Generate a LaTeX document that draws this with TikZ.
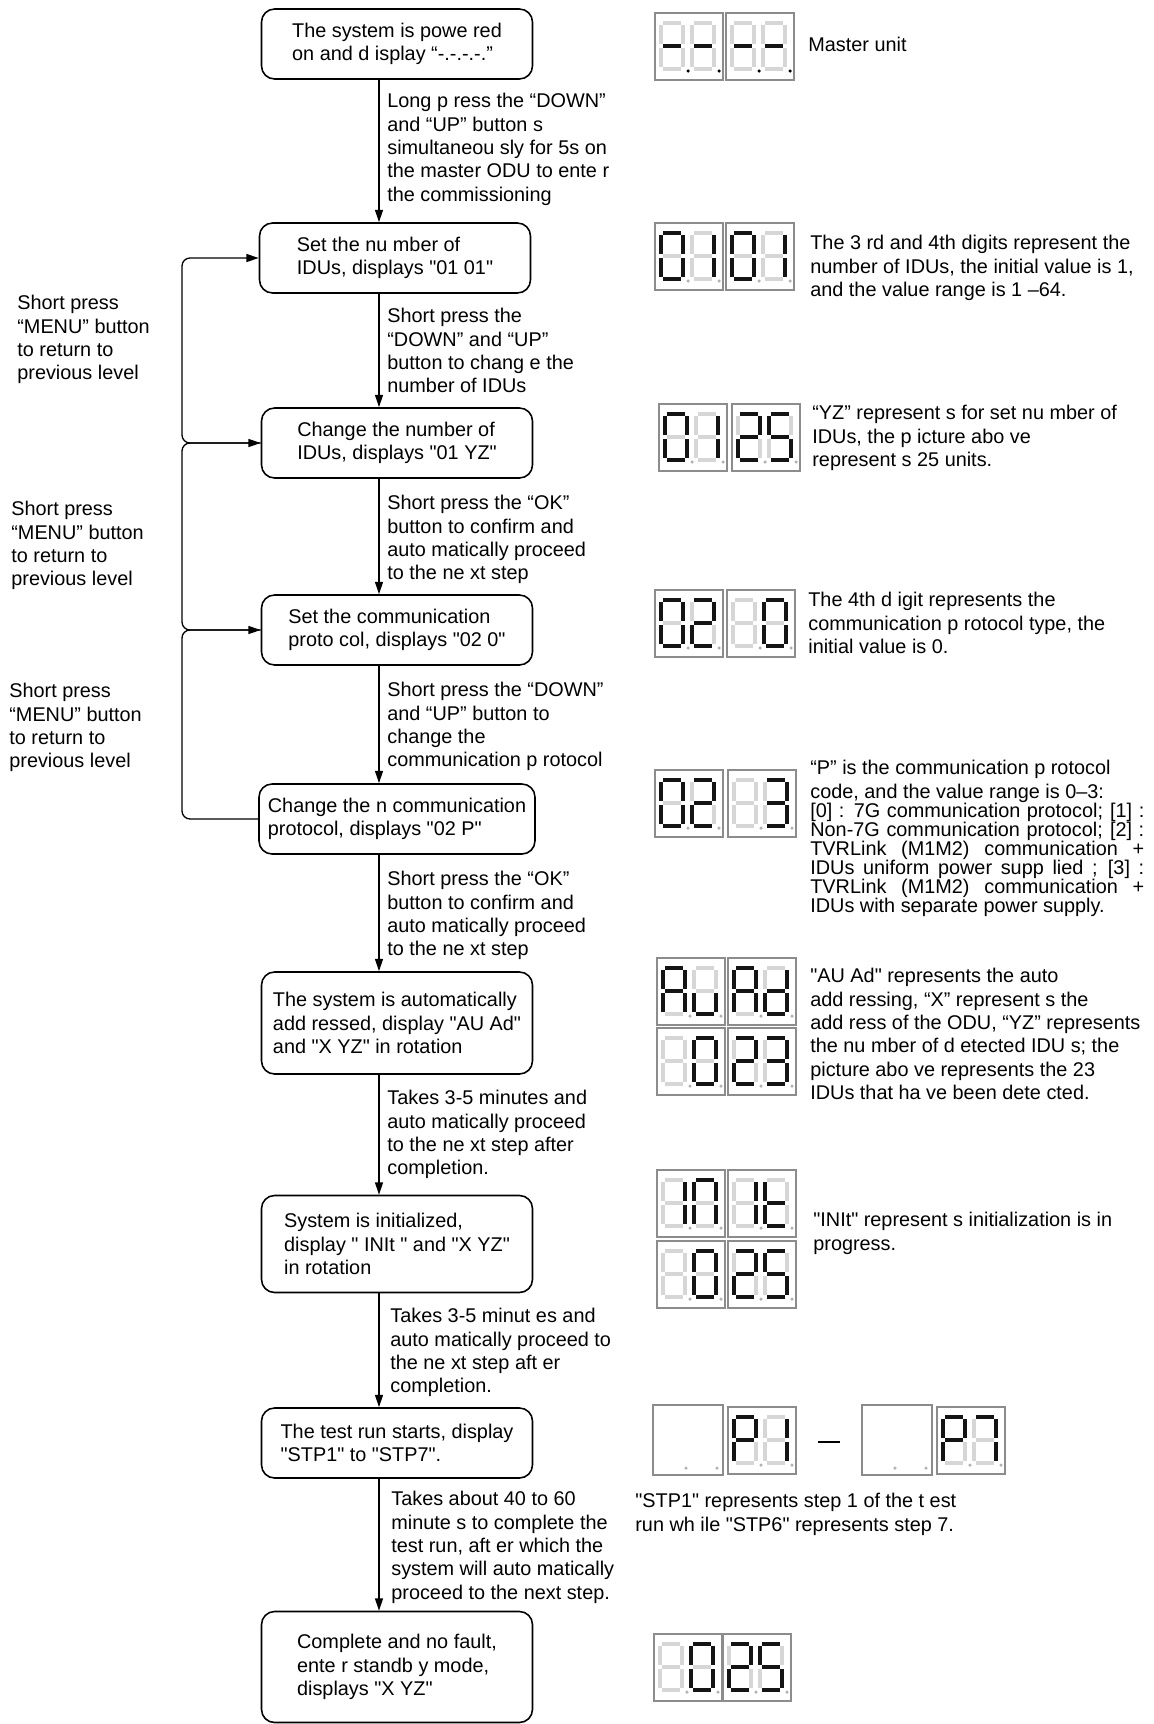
\documentclass[tikz,border=0pt]{standalone}
\usepackage{fontspec}
\setmainfont{Liberation Sans}[Ligatures=TeXOff]
\usetikzlibrary{arrows.meta,positioning}

% one unit = one pixel of the sheet, y running down
\tikzset{
  sega/.style={insert path={(0,0) -- (22,0)}},
  segb/.style={insert path={(22,0) -- (22,23)}},
  segc/.style={insert path={(22,23) -- (22,46)}},
  segd/.style={insert path={(0,46) -- (22,46)}},
  sege/.style={insert path={(0,23) -- (0,46)}},
  segf/.style={insert path={(0,0) -- (0,23)}},
  segg/.style={insert path={(0,23) -- (22,23)}},
  segoff/.style={draw=black!16, line width=2.2pt, shorten <=0.04cm, shorten >=0.04cm},
  segon/.style={draw=black!92, line width=2.3pt, shorten <=0.04cm, shorten >=0.04cm},
  panel/.style={draw=black!45, line width=0.7pt},
}

% one seven-segment digit: [dot colour]{x}{y}{lit segments}
\newcommand\segdigit[4][black!30]{%
  \begin{scope}[shift={(#2,#3)}]
    \foreach \s in {a,b,c,d,e,f,g} \draw[segoff,seg\s];
    \foreach \s in {#4} \draw[segon,seg\s];
    \fill[#1] (27,48) circle[radius=0.035cm];
  \end{scope}}

% a framed pair of digits: [dot colour]{x}{y}{first}{second}
\newcommand\ledpair[5][black!30]{%
  \draw[panel] (#2,#3) rectangle ++(68,67);
  \segdigit[#1]{#2+6}{#3+10}{#4}
  \segdigit[#1]{#2+37}{#3+10}{#5}}

% a framed pair that shows nothing but its points
\newcommand\ledblank[2]{%
  \draw[panel] (#1,#2) rectangle ++(70,70);
  \fill[black!30] (#1+33,#2+63) circle[radius=0.035cm];
  \fill[black!30] (#1+64,#2+63) circle[radius=0.035cm];}

\begin{document}
\begin{tikzpicture}[x=0.02cm, y=-0.02cm,
    font=\fontsize{11.3}{13.3}\selectfont,
    procbox/.style={draw, fill=white, line width=0.9pt, rounded corners=0.26cm,
      minimum width=5.42cm, minimum height=1.4cm, align=left, inner xsep=2pt},
    flow/.style={draw, line width=0.75pt, -{Triangle[length=7pt,width=4.5pt]}},
    back/.style={flow, rounded corners=0.16cm},
    note/.style={anchor=north west, inner sep=0pt, align=left}]
  \useasboundingbox (0,0) rectangle (1153,1724);

  \coordinate (spine) at (379,0);
  \coordinate (loop) at (182,0);

  % steps
  \node[procbox] (b1) at (397,44) {The system is powe red\\on and d isplay “-.-.-.-.”};
  \node[procbox] (b2) at (395,258) {Set the nu mber of\\IDUs, displays "01 01"};
  \node[procbox] (b3) at (397,443) {Change the number of\\IDUs, displays "01 YZ"};
  \node[procbox] (b4) at (397,630) {Set the  communication\\proto col, displays "02 0"};
  \node[procbox, minimum width=5.52cm] (b5) at (397,819) {Change the n communication\\protocol, displays "02 P"};
  \node[procbox, minimum height=2.04cm] (b6) at (397,1023) {The system is automatically\\add ressed, display "AU Ad"\\and "X YZ" in rotation};
  \node[procbox, minimum height=1.94cm] (b7) at (397,1244) {System is initialized,\\display " INIt " and "X YZ"\\in rotation};
  \node[procbox] (b8) at (397,1443) {The test run starts, display\\"STP1" to "STP7".};
  \node[procbox, minimum height=2.22cm] (b9) at (397,1667) {Complete and no  fault,\\ente r standb y mode,\\displays "X YZ"};

  \foreach \a/\b in {b1/b2,b2/b3,b3/b4,b4/b5,b5/b6,b6/b7,b7/b8,b8/b9}
    \draw[flow] (\a.south -| spine) -- (\b.north -| spine);

  % going back one level
  \draw[back] (b3.west) -| (loop |- b2.west) -- (b2.west);
  \draw[back] (b4.west) -| (loop |- b3.west) -- (b3.west);
  \draw[back] (b5.west) -| (loop |- b4.west) -- (b4.west);

  \node[note] (m1) at (17,295) {Short press\\“MENU” button\\to return to\\previous level};
  \node[note] (m2) at (11,501) {Short press\\“MENU” button\\to return to\\previous level};
  \node[note] (m3) at (9,683) {Short press\\“MENU” button\\to return to\\previous level};

  % what to do between steps
  \node[note] (t1) at (387,93) {Long p ress the “DOWN”\\and “UP” button s\\simultaneou sly for 5s on\\the master ODU to ente r\\the commissioning};
  \node[note] (t2) at (387,308) {Short press the\\“DOWN” and “UP”\\button to  chang e the\\number of IDUs};
  \node[note] (t3) at (387,495) {Short press the “OK”\\button to  confirm and\\auto matically proceed\\to the ne xt step};
  \node[note] (t4) at (387,682) {Short press the “DOWN”\\and “UP” button  to\\change the\\communication p rotocol};
  \node[note] (t5) at (387,871) {Short press the “OK”\\button to  confirm and\\auto matically proceed\\to the ne xt step};
  \node[note] (t6) at (387,1090) {Takes 3-5 minutes and\\auto matically proceed\\to the ne xt step after\\completion.};
  \node[note] (t7) at (390,1308) {Takes 3-5 minut es and\\auto matically proceed to\\the ne xt step aft er\\completion.};
  \node[note] (t8) at (391,1491) {Takes about 40  to 60\\minute s to complete  the\\test run, aft er which  the\\system will auto matically\\proceed to the next step.};

  % displays
  \ledpair[black]{655}{13}{g}{g}
  \ledpair[black]{726}{13}{g}{g}
  \node[anchor=west, inner sep=0pt] (d1) at (808,44) {Master unit};

  \ledpair{655}{223}{a,b,c,d,e,f}{b,c}
  \ledpair{726}{223}{a,b,c,d,e,f}{b,c}
  \node[note] (d2) at (810,235) {The 3 rd and 4th  digits represent  the\\number of IDUs, the initial value is 1,\\and the  value range is 1 –64.};

  \ledpair{659}{404}{a,b,c,d,e,f}{b,c}
  \ledpair{732}{404}{a,b,g,e,d}{a,f,g,c,d}
  \node[note] (d3) at (812,405) {“YZ” represent s for set nu mber of\\IDUs, the p icture abo ve\\represent s 25 units.};

  \ledpair{655}{590}{a,b,c,d,e,f}{a,b,g,e,d}
  \ledpair{727}{590}{}{a,b,c,d,e,f}
  \node[note] (d4) at (808,592) {The 4th d igit represents the\\communication p rotocol type, the\\initial value is 0.};

  \ledpair{655}{770}{a,b,c,d,e,f}{a,b,g,e,d}
  \ledpair{728}{770}{}{a,b,g,c,d}
  \node[note] (d5) at (810,760) {“P” is the  communication p rotocol\\code, and the   value range  is  0–3:};
  \node[note, text width=6.68cm, align=justify, below=0pt of d5.south west, anchor=north west,
    font={\fontsize{11.3}{10.8}\selectfont\lineskiplimit=-5pt}] (d5b)
    {[0]  : 7G communication protocol; [1] :\linebreak Non-7G communication protocol; [2] :\linebreak TVRLink (M1M2) communication +\linebreak IDUs uniform power supp lied  ;   [3] :\linebreak TVRLink (M1M2) communication +\linebreak IDUs with separate power  supply.};

  \ledpair{657}{958}{a,b,c,e,f,g}{c,d,e}
  \ledpair{728}{958}{a,b,c,e,f,g}{b,c,d,e,g}
  \ledpair{657}{1028}{}{a,b,c,d,e,f}
  \ledpair{728}{1028}{a,b,g,e,d}{a,b,g,c,d}
  \node[note] (d6) at (810,968) {"AU Ad" represents the auto\\add ressing, “X” represent s the\\add ress of the  ODU, “YZ” represents\\the nu mber of d etected IDU s; the\\picture abo ve represents the 23\\IDUs that ha ve been  dete cted.};

  \ledpair{657}{1170}{b,c}{a,b,c,e,f}
  \ledpair{728}{1170}{b,c}{d,e,f,g}
  \ledpair{657}{1241}{}{a,b,c,d,e,f}
  \ledpair{728}{1241}{a,b,g,e,d}{a,f,g,c,d}
  \node[note] (d7) at (813,1212) {"INIt" represent s initialization is in\\progress.};

  \ledblank{653}{1405}
  \ledpair{728}{1407}{a,b,e,f,g}{b,c}
  \draw[line width=1.6pt] (818,1442) -- (840,1442);
  \ledblank{862}{1405}
  \ledpair{937}{1407}{a,b,e,f,g}{a,b,c}
  \node[note] (d8) at (635,1493) {"STP1" represents step 1 of the t est\\run wh ile "STP6" represents step 7.};

  \ledpair{654}{1634}{}{a,b,c,d,e,f}
  \ledpair{723}{1634}{a,b,g,e,d}{a,f,g,c,d}
\end{tikzpicture}
\end{document}
